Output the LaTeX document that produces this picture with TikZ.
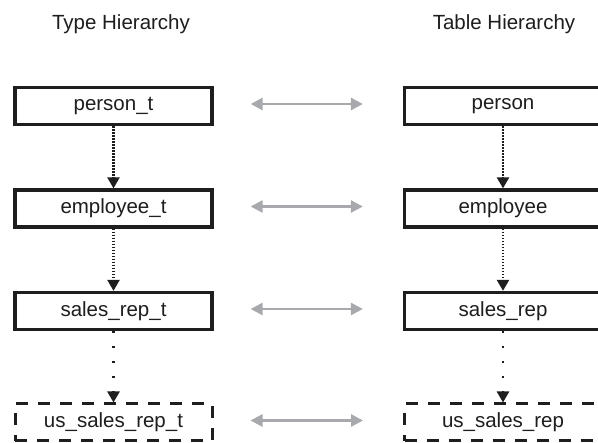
\documentclass[tikz,border=0pt]{standalone}
\usepackage{fontspec}
\setmainfont{Liberation Sans}
\usetikzlibrary{arrows.meta}
\definecolor{arrowgray}{RGB}{168,169,173}
\definecolor{ink}{RGB}{30,30,30}
\begin{document}
\begin{tikzpicture}[x=1pt,y=-1pt,
  lbl/.style={font=\fontsize{20.5}{24}\selectfont, text=ink, inner sep=0pt},
  box/.style={draw=ink, line width=3.3pt, minimum width=197pt, minimum height=37pt, inner sep=0pt, text=ink, font=\fontsize{20.5}{24}\selectfont},
  dbox/.style={box, line width=3pt, dash pattern=on 12pt off 10pt},
  dotarrow/.style={draw=ink, line width=2.4pt, dash pattern=on 1.6pt off 1.4pt, -{Triangle[width=12pt,length=11pt]}},
  sparsearrow/.style={draw=ink, line width=2.4pt, dash pattern=on 2.2pt off 12.8pt, -{Triangle[width=12pt,length=11pt]}},
  grayarrow/.style={draw=arrowgray, line width=2.6pt, {Triangle[width=12pt,length=12pt]}-{Triangle[width=12pt,length=12pt]}}
]
\useasboundingbox (0,0) rectangle (598,443);
\fill[white] (0,0) rectangle (598,443);

\node[lbl] (th) at (121,24) {Type Hierarchy};
\node[lbl] (tbh) at (504,24) {Table Hierarchy};

\node[box] (t1) at (113.5,106) {person\_t};
\node[box] (t2) at (113.5,208.5) {employee\_t};
\node[box] (t3) at (113.5,311) {sales\_rep\_t};
\node[dbox] (t4) at (113.5,422.5) {us\_sales\_rep\_t};

\node[box] (r1) at (503,106) {person};
\node[box] (r2) at (503,208.5) {employee};
\node[box] (r3) at (503,311) {sales\_rep};
\node[dbox] (r4) at (503,422.5) {us\_sales\_rep};

\draw[dotarrow] (t1.south) -- (t2.north);
\draw[dotarrow] (t2.south) -- (t3.north);
\draw[sparsearrow] (t3.south) -- (t4.north);
\draw[dotarrow] (r1.south) -- (r2.north);
\draw[dotarrow] (r2.south) -- (r3.north);
\draw[sparsearrow] (r3.south) -- (r4.north);

\foreach \i in {1,2,3,4}{
  \draw[grayarrow] ([xshift=37pt,yshift=2pt]t\i.east) -- ([xshift=-40pt,yshift=2pt]r\i.west);
}
\end{tikzpicture}
\end{document}
